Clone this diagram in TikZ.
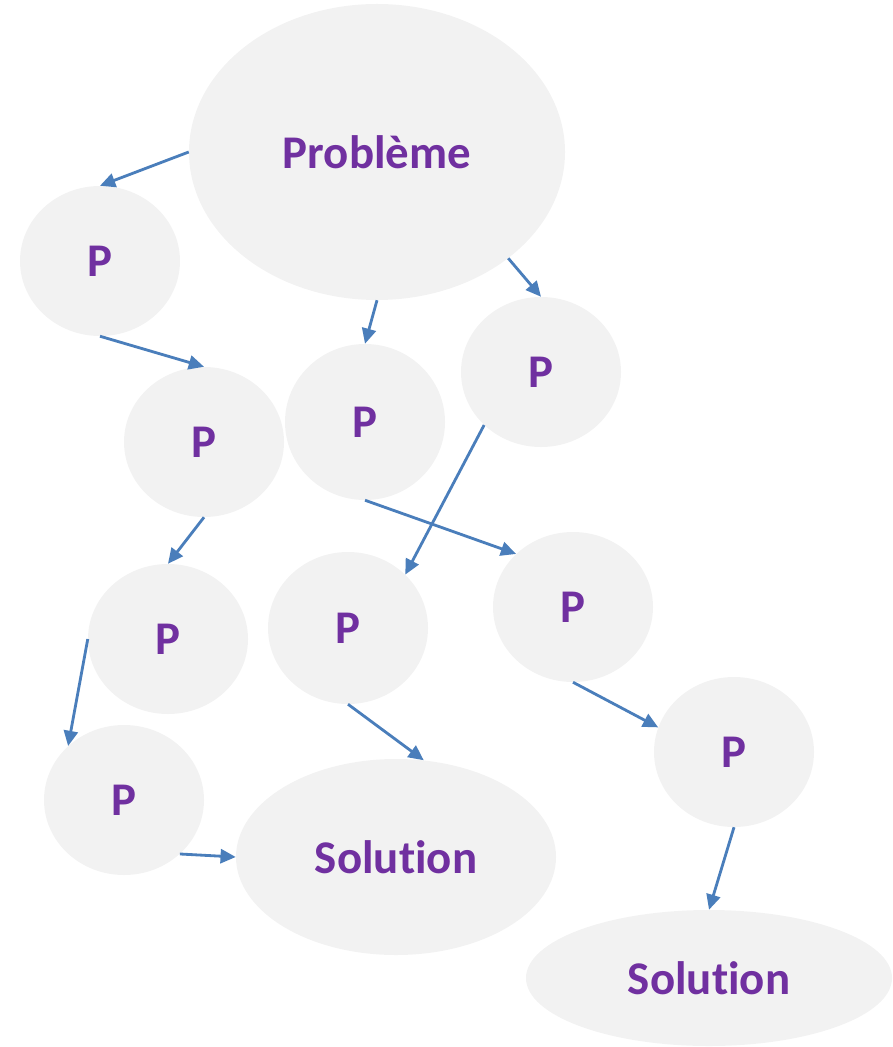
\documentclass[tikz,border=0pt]{standalone}
\usepackage{fontspec}
\setmainfont{Carlito}[Ligatures=NoCommon]
\usetikzlibrary{shapes.geometric,arrows.meta}
\definecolor{fondbulle}{HTML}{F2F2F2}
\definecolor{texteviolet}{HTML}{7030A0}
\definecolor{bleufleche}{HTML}{4A7EBB}
\tikzset{
	bulle/.style={ellipse, fill=fondbulle, inner sep=0pt, text=texteviolet, font=\fontsize{40}{48}\selectfont\bfseries},
	petite/.style={bulle, minimum width=4.8cm, minimum height=4.5cm},
	fleche/.style={draw=bleufleche, line width=2.4pt, -{Triangle[length=13pt,width=12pt]}}
}

\begin{document}
\begin{tikzpicture}[x=0.03cm, y=-0.03cm]
			%%%%% START %%%%%
			\useasboundingbox (0, 0) rectangle (892, 1047);
			
			\node[bulle, minimum width=11.28cm, minimum height=8.88cm] (probleme) at (377, 152) {Problème};
			
			\node[petite] (p1) at (100, 261) {P};
			\node[petite] (p2) at (204, 442) {P};
			\node[petite, minimum height=4.68cm] (p3) at (365, 422) {P};
			\node[petite] (p4) at (541, 372) {P};
			\node[petite] (p5) at (168, 639) {P};
			\node[petite, minimum height=4.56cm] (p6) at (348, 628) {P};
			\node[petite] (p7) at (573, 607) {P};
			\node[petite] (p8) at (124, 800) {P};
			\node[petite] (p9) at (734, 752) {P};
			
			\node[bulle, minimum width=9.6cm, minimum height=5.88cm] (solution1) at (396, 857) {Solution};
			\node[bulle, minimum width=10.98cm, minimum height=4.08cm] (solution2) at (709, 978) {Solution};
			
			% chemins
			\draw[fleche] (probleme.west) -- (p1.north);
			\draw[fleche] (probleme.-39) -- (p4.north);
			\draw[fleche] (probleme.south) -- (p3.north);
			
			\draw[fleche] (p1.south) -- (p2.north);
			\draw[fleche] (p2.south) -- (p5.north);
			\draw[fleche] (p5.west) -- (p8.136);
			\draw[fleche] (p8.-44) -- (solution1.west);
			
			\draw[fleche] (p4.223) -- (p6.43);
			\draw[fleche] (p6.south) -- (solution1.74);
			
			\draw[fleche] (p3.south) -- (p7.137);
			\draw[fleche] (p7.south) -- (p9.162);
			\draw[fleche] (p9.south) -- (solution2.north);
			%%%%% END %%%%%
\end{tikzpicture}
\end{document}
